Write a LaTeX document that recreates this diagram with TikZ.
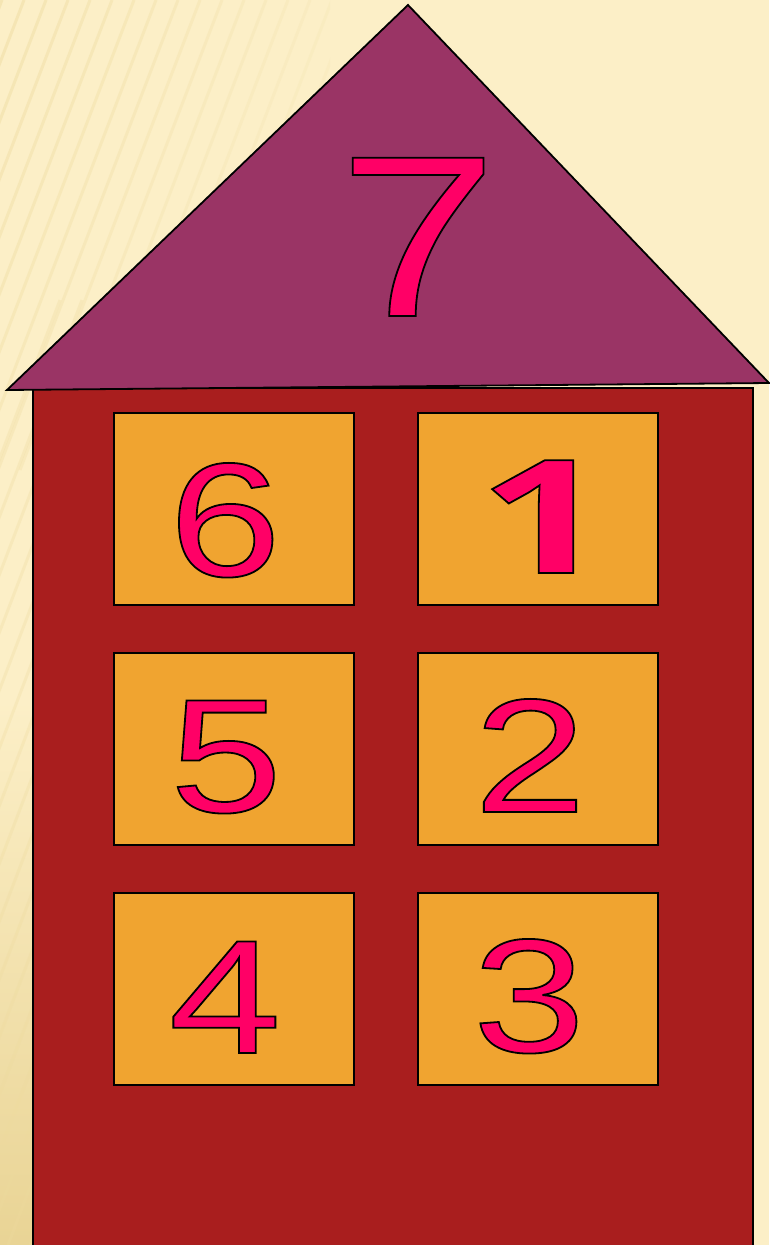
\documentclass[tikz,border=0pt]{standalone}
\usepackage{fontspec}
\setmainfont{Liberation Sans}
\newfontfamily\widedigits[FakeStretch=1.25]{Liberation Sans}
\newfontfamily\onedigit[FakeStretch=1.45]{Open Sans}
\definecolor{bg}{HTML}{FCEFC7}
\definecolor{bgdark}{HTML}{E9D495}
\definecolor{stripe}{HTML}{EEDB9E}
\definecolor{roof}{HTML}{9A3465}
\definecolor{wall}{HTML}{A91E1E}
\definecolor{win}{HTML}{F0A430}
\definecolor{digit}{HTML}{FF0066}
\newcommand{\outlined}[1]{\special{pdf:literal direct 0 0 0 RG 2 Tr 1.8 w}#1\special{pdf:literal direct 0 Tr}}
\tikzset{
  winbox/.style={draw=black, fill=win, line width=1.6pt},
  digitnode/.style={text=digit, inner sep=0pt, anchor=base, font=\widedigits\fontsize{162}{162}\selectfont},
  housepart/.style={draw=black, line width=1.8pt, line join=miter}
}
\begin{document}
\begin{tikzpicture}[x=1pt,y=-1pt]
\useasboundingbox (0,0) rectangle (769,1245);
\fill[bg] (0,0) rectangle (769,1245);
\shade[top color=bg, bottom color=bgdark] (0,700) rectangle (34,1245);
\begin{scope}
\clip (0,0) rectangle (330,1245);
\foreach \i in {0,...,22} {
  \pgfmathsetmacro{\op}{max(0,0.5-0.022*\i)}
  \draw[stripe, line width=3pt, opacity=\op] (-200+\i*22,470) -- (-20+\i*22,0);
}
\foreach \i in {0,...,40} {
  \draw[stripe, line width=3pt, opacity=0.3] (-300+\i*22,1245) -- (60+\i*22,300);
}
\end{scope}
% wall
\draw[housepart, fill=wall] (33,388) rectangle (753,1246);
% roof
\coordinate (apex) at (408,5);
\coordinate (eaveL) at (7,390);
\coordinate (eaveR) at (769,383);
\draw[housepart, fill=roof] (eaveL) -- (apex) -- (eaveR) -- cycle;
% windows
\node[winbox, minimum width=240pt, minimum height=192pt, anchor=north west] (w6) at (113,412) {};
\node[winbox, minimum width=240pt, minimum height=192pt, anchor=north west] (w1) at (417,412) {};
\node[winbox, minimum width=240pt, minimum height=192pt, anchor=north west] (w5) at (113,652) {};
\node[winbox, minimum width=240pt, minimum height=192pt, anchor=north west] (w2) at (417,652) {};
\node[winbox, minimum width=240pt, minimum height=192pt, anchor=north west] (w4) at (113,892) {};
\node[winbox, minimum width=240pt, minimum height=192pt, anchor=north west] (w3) at (417,892) {};
% digits
\node[digitnode, font=\widedigits\fontsize{230}{230}\selectfont] (d7) at (418,316) {\outlined{7}};
\node[digitnode] (d6) at (225,576) {\outlined{6}};
\node[digitnode, font=\onedigit\bfseries\fontsize{158}{158}\selectfont] (d1) at (544,573) {\outlined{1}};
\node[digitnode] (d5) at (226,812) {\outlined{5}};
\node[digitnode] (d2) at (530,812) {\outlined{2}};
\node[digitnode] (d4) at (225,1053) {\outlined{4}};
\node[digitnode] (d3) at (529,1052) {\outlined{3}};
\end{tikzpicture}
\end{document}
